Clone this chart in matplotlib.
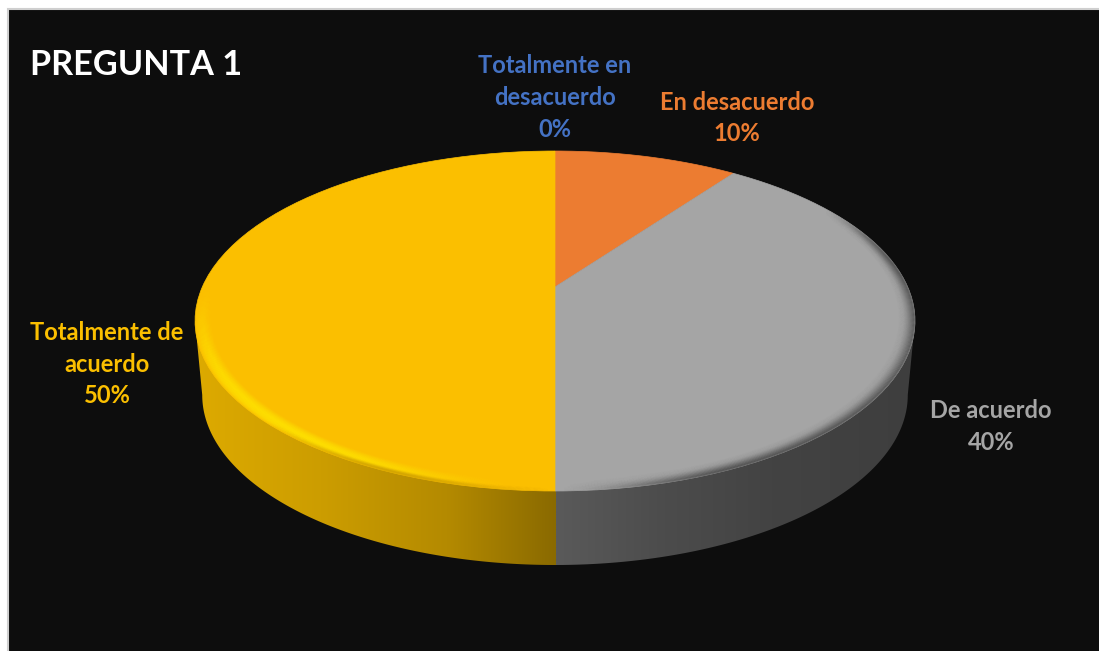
import numpy as np
import matplotlib
matplotlib.use("Agg")
import matplotlib.pyplot as plt
from matplotlib.collections import LineCollection
from matplotlib.colors import LinearSegmentedColormap, to_rgb
from matplotlib.patches import Polygon, Rectangle
from matplotlib.path import Path
from matplotlib.transforms import Affine2D, Transform

# ---- data ----
categories = ["Totalmente en\ndesacuerdo", "En desacuerdo", "De acuerdo", "Totalmente de\nacuerdo"]
values = [0, 10, 40, 50]
slice_colors = ["#4472C4", "#EC7C31", "#A5A5A5", "#FBBF00"]
label_x = [555, 737, 991, 107]
label_y = [97.5, 118, 426.5, 364]
title_text = "PREGUNTA 1"

plt.rcParams["font.family"] = ["Lato", "DejaVu Sans"]
W, H = 1099, 651
BG = "#0D0D0D"

CX, AX, P, Q, R = 555.0, 352.7, -105.8, 287.0, 0.2


class Perspective(Transform):
    """Tilted-disc projection: unit circle -> pixel-like data coordinates."""
    input_dims = output_dims = 2
    is_affine = False
    has_inverse = False

    def transform_non_affine(self, xy):
        xy = np.asarray(xy, dtype=float)
        d = R * xy[:, 1] + 1
        return np.column_stack([CX + AX * xy[:, 0] / d, (P * xy[:, 1] + Q) / d])

    def transform_path_non_affine(self, path):
        polys = path.to_polygons(Affine2D().scale(500), closed_only=False)
        v = np.concatenate(polys) / 500.0
        return Path(self.transform_non_affine(v))


persp = Perspective()
fig = plt.figure(figsize=(W / 100, H / 100), dpi=100, facecolor="white")
ax = fig.add_axes([0, 0, 1, 1])


def reset():
    ax.set_aspect("auto")
    ax.set_xlim(0, W)
    ax.set_ylim(H, 0)
    ax.axis("off")


ax.add_patch(Rectangle((8, 8.5), W, H, fc=BG, ec="#CFCFCF", lw=1.5, zorder=0))

# ---- side wall ----
SHIFT, SHRINK = 74.0, 0.98
t0 = np.arcsin(-R)
ts = np.linspace(t0, -np.pi - t0, 300)
ring = np.column_stack([np.cos(ts), np.sin(ts)])
low = persp.transform_non_affine(ring)
low[:, 0] = CX + (low[:, 0] - CX) * SHRINK
low[:, 1] += SHIFT
top_r = persp.transform_non_affine(ring[[0]])
top_l = persp.transform_non_affine(ring[[-1]])
wall_xy = np.vstack([top_r, low, top_l])
wall = Polygon(wall_xy, closed=True, fc="none", ec="none")
ax.add_patch(wall)

left_cmap = LinearSegmentedColormap.from_list(
    "l", [(0, "#DDAA00"), (0.35, "#CC9D00"), (0.7, "#B48A00"), (1, "#8A6A00")])
right_cmap = LinearSegmentedColormap.from_list(
    "r", [(0, "#5A5A5A"), (0.3, "#4C4C4C"), (0.6, "#434343"), (1, "#3E3E3E")])
grad = np.linspace(0, 1, 256)[None, :]
for cmap, ext in ((left_cmap, (195, 555.5, 570, 300)), (right_cmap, (555.5, 916, 570, 300))):
    im = ax.imshow(grad, cmap=cmap, extent=ext, aspect="auto", zorder=1, interpolation="bilinear")
    im.set_clip_path(wall)

# ---- top face ----
wedges, _ = ax.pie(values, colors=slice_colors, startangle=90, counterclock=False,
                   radius=1, center=(0, 0), frame=True,
                   wedgeprops=dict(linewidth=0))
for w, val in zip(wedges, values):
    w.set_transform(persp + ax.transData)
    w.set_zorder(2)
    if val > 0:
        w.set_edgecolor(w.get_facecolor())
        w.set_linewidth(0.5)
reset()


# ---- soft rim shading ----
def rim(profile_r, profile_a, color, a0, a1, fade=25, n=16):
    """Smooth band: alpha follows the (radius, alpha) profile, fading at both arc ends."""
    th = np.radians(np.linspace(a0, a1, 300))
    rgb = to_rgb(color)
    deg = np.degrees(th)
    env = np.clip(np.minimum(np.abs(deg - a0), np.abs(deg - a1)) / fade, 0, 1)
    env = env * env * (3 - 2 * env)
    radii = np.linspace(profile_r[0], profile_r[-1], n)
    alphas = np.interp(radii, profile_r, profile_a)
    for rad, al in zip(radii, alphas):
        pts = persp.transform_non_affine(np.column_stack([rad * np.cos(th), rad * np.sin(th)]))
        dy = np.abs(pts[1:, 1] - pts[:-1, 1])
        segs = np.stack([pts[:-1], pts[1:]], axis=1)
        cols = [(*rgb, al * e) for e in env[:-1]]
        ax.add_collection(LineCollection(segs, colors=cols, linewidths=1.4, zorder=3, capstyle="butt"))


# yellow bevel
rim([0.955, 0.968, 0.978, 0.99, 0.998], [0.0, 0.35, 0.6, 0.45, 0.15], "#FFE600", 176, 268, fade=40)
rim([0.985, 0.998], [0.0, 0.5], "#C79A00", 225, 270, fade=25, n=6)
# gray bevel
rim([0.955, 0.97, 0.98, 0.99, 0.998], [0.0, 0.03, 0.14, 0.32, 0.5], "#3E3E3E", -90, 32, fade=25)

# ---- labels ----
for name, val, col, x, y in zip(categories, values, slice_colors, label_x, label_y):
    ax.text(x, y, f"{name}\n{val}%", color=col, ha="center", va="center",
            fontsize=17, fontweight="bold", linespacing=1.45, zorder=5)
ax.text(30, 65, title_text, color="white", ha="left", va="center",
        fontsize=24.7, fontweight="bold", zorder=5)

reset()
fig.savefig("out.png", dpi=100, facecolor="white")
